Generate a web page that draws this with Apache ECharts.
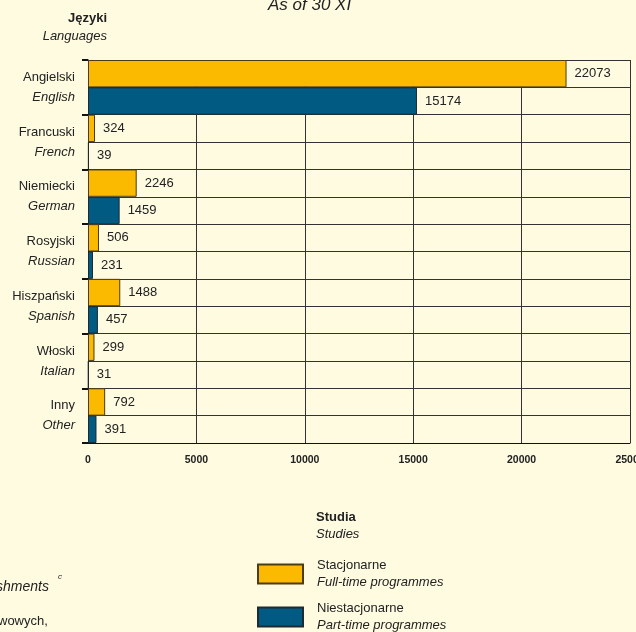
<!DOCTYPE html>
<html>
<head>
<meta charset="utf-8">
<script src="https://cdn.jsdelivr.net/npm/echarts@6/dist/echarts.min.js"></script>
<style>
  html, body { margin: 0; padding: 0; background: #fefbe1; }
  #chart { width: 636px; height: 632px; }
</style>
</head>
<body>
<div id="chart"></div>
<script>
// języki / languages
const categories = ["Angielski", "Francuski", "Niemiecki", "Rosyjski", "Hiszpański", "Włoski", "Inny"];
const categoriesEn = ["English", "French", "German", "Russian", "Spanish", "Italian", "Other"];
// studia stacjonarne / niestacjonarne
const fullTime = [22073, 324, 2246, 506, 1488, 299, 792];
const partTime = [15174, 39, 1459, 231, 457, 31, 391];
// oś wartości
const xMin = 0, xMax = 25000, xStep = 5000;

const FONT = "'Liberation Sans', Arial, sans-serif";
const INK = "#222";

let myChart = echarts.init(document.getElementById("chart"));

// pomocnicza oś z połówkami wierszy (linie między słupkami)
let halfRows = [];
categories.forEach((c) => { halfRows.push(c + "-a", c + "-b"); });

let options = {
  backgroundColor: "#fefbe1",
  textStyle: { fontFamily: FONT, color: INK },
  animation: false,
  grid: { left: 88, right: 6, top: 60, bottom: 189, containLabel: false, outerBoundsMode: "none" },
  xAxis: {
    type: "value",
    min: xMin,
    max: xMax,
    interval: xStep,
    axisLine: { show: true, lineStyle: { color: "#111", width: 1 } },
    axisTick: { show: false },
    axisLabel: { fontSize: 10.5, fontWeight: "bold", color: INK, margin: 12, formatter: (v) => String(v) },
    splitLine: { show: true, lineStyle: { color: "#333", width: 1 } },
  },
  yAxis: [
    {
      type: "category",
      data: categories,
      inverse: true,
      axisLine: { show: true, lineStyle: { color: "#111", width: 1 } },
      axisTick: { show: true, length: 6, lineStyle: { color: "#111", width: 2 } },
      axisLabel: {
        margin: 13,
        align: "right",
        formatter: (v, i) => "{pl|" + v + "}\n{en|" + categoriesEn[i] + "}",
        rich: {
          pl: { fontSize: 13, lineHeight: 20, color: INK, align: "right" },
          en: { fontSize: 13, lineHeight: 20, color: INK, fontStyle: "italic", align: "right" },
        },
      },
      splitLine: { show: true, lineStyle: { color: "#333", width: 1 } },
    },
    {
      type: "category",
      data: halfRows,
      inverse: true,
      position: "left",
      axisLine: { show: false },
      axisTick: { show: false },
      axisLabel: { show: false },
      splitLine: { show: true, lineStyle: { color: "#333", width: 1 } },
    },
  ],
  legend: {
    orient: "vertical",
    left: 257,
    top: 559,
    padding: 0,
    icon: "rect",
    itemWidth: 45,
    itemHeight: 19,
    itemGap: 13,
    selectedMode: false,
    data: ["Stacjonarne", "Niestacjonarne"],
    formatter: (name) =>
      "{pl|" + name + "}\n{en|" + (name === "Stacjonarne" ? "Full-time programmes" : "Part-time programmes") + "}",
    textStyle: {
      rich: {
        pl: { fontSize: 13, lineHeight: 17, color: INK, padding: [0, 0, 0, 9] },
        en: { fontSize: 13, lineHeight: 17, color: INK, fontStyle: "italic", padding: [0, 0, 0, 9] },
      },
    },
  },
  graphic: [
    { type: "text", left: 268, top: -3, style: { text: "As of 30 XI", font: "italic 17px " + FONT, fill: INK } },
    { type: "text", right: 636 - 107, top: 12, style: { text: "Języki", font: "bold 13px " + FONT, fill: INK } },
    { type: "text", right: 636 - 107, top: 30, style: { text: "Languages", font: "italic 13px " + FONT, fill: INK } },
    { type: "text", left: 316, top: 511, style: { text: "Studia", font: "bold 13px " + FONT, fill: INK } },
    { type: "text", left: 316, top: 528, style: { text: "Studies", font: "italic 13px " + FONT, fill: INK } },
    { type: "text", left: -4, top: 580, style: { text: "shments", font: "italic 14px " + FONT, fill: INK } },
    { type: "text", left: 58, top: 573, style: { text: "c", font: "italic 8px " + FONT, fill: INK } },
    { type: "text", left: -2, top: 615, style: { text: "wowych,", font: "13px " + FONT, fill: INK } },
  ],
  series: [
    {
      name: "Stacjonarne",
      type: "bar",
      yAxisIndex: 0,
      data: fullTime,
      barWidth: "50%",
      barGap: "0%",
      itemStyle: { color: "#fbba00", borderColor: "#4a3c14", borderWidth: 1 },
      label: { show: true, position: "right", distance: 8, fontSize: 13, color: INK },
    },
    {
      name: "Niestacjonarne",
      type: "bar",
      yAxisIndex: 0,
      data: partTime,
      barWidth: "50%",
      barGap: "0%",
      itemStyle: { color: "#005a82", borderColor: "#1e2a30", borderWidth: 1 },
      label: { show: true, position: "right", distance: 8, fontSize: 13, color: INK },
    },
  ],
};
myChart.setOption(options);
</script>
</body>
</html>
